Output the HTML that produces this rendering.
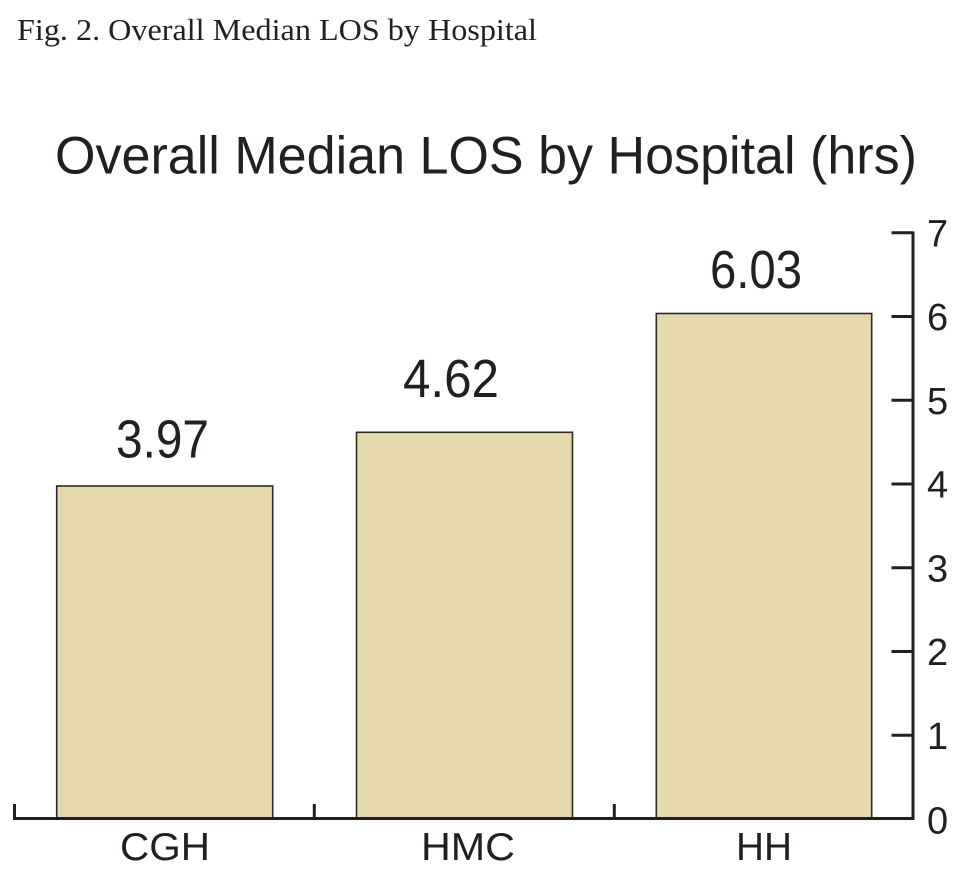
<!DOCTYPE html>
<html><head><meta charset="utf-8"><style>
html,body{margin:0;padding:0;background:#fff;}
svg{display:block;}
</style></head><body>
<svg width="973" height="889" viewBox="0 0 973 889" xmlns="http://www.w3.org/2000/svg">
<rect width="973" height="889" fill="#fff"/>
<text x="17" y="40" font-family="Liberation Serif, serif" font-size="31" fill="#231f20" textLength="520" lengthAdjust="spacingAndGlyphs">Fig. 2. Overall Median LOS by Hospital</text>
<text x="55" y="173.5" font-family="Liberation Sans, sans-serif" font-size="53" fill="#231f20" textLength="862" lengthAdjust="spacingAndGlyphs">Overall Median LOS by Hospital (hrs)</text>
<g fill="#e6d8ad" stroke="#2b2a28" stroke-width="1.6">
<rect x="56.7" y="486" width="216" height="333"/>
<rect x="356.5" y="432.3" width="216" height="386.7"/>
<rect x="656.3" y="313.5" width="215.4" height="505.5"/>
</g>
<g font-family="Liberation Sans, sans-serif" font-size="54" fill="#231f20">
<text x="116" y="457.5" textLength="93" lengthAdjust="spacingAndGlyphs">3.97</text>
<text x="403" y="397" textLength="96" lengthAdjust="spacingAndGlyphs">4.62</text>
<text x="710" y="288" textLength="92" lengthAdjust="spacingAndGlyphs">6.03</text>
</g>
<g stroke="#231f20" stroke-width="3" fill="none">
<line x1="13" y1="818.5" x2="914.5" y2="818.5"/>
<line x1="913" y1="231.5" x2="913" y2="820"/>
<line x1="14.5" y1="804" x2="14.5" y2="818.5"/>
<line x1="314.3" y1="804" x2="314.3" y2="818.5"/>
<line x1="614.3" y1="804" x2="614.3" y2="818.5"/>
<line x1="891.5" y1="232.75" x2="913" y2="232.75"/>
<line x1="891.5" y1="316.5" x2="913" y2="316.5"/>
<line x1="891.5" y1="400.25" x2="913" y2="400.25"/>
<line x1="891.5" y1="484" x2="913" y2="484"/>
<line x1="891.5" y1="567.75" x2="913" y2="567.75"/>
<line x1="891.5" y1="651.5" x2="913" y2="651.5"/>
<line x1="891.5" y1="735.25" x2="913" y2="735.25"/>
</g>
<g font-family="Liberation Sans, sans-serif" font-size="38" fill="#231f20">
<text x="927" y="246.5">7</text>
<text x="927" y="330">6</text>
<text x="927" y="414">5</text>
<text x="927" y="497.5">4</text>
<text x="927" y="581.5">3</text>
<text x="927" y="665">2</text>
<text x="927" y="749">1</text>
<text x="927" y="833.5">0</text>
</g>
<g font-family="Liberation Sans, sans-serif" font-size="39" fill="#231f20">
<text x="120" y="860" textLength="90" lengthAdjust="spacingAndGlyphs">CGH</text>
<text x="421" y="860" textLength="94" lengthAdjust="spacingAndGlyphs">HMC</text>
<text x="736" y="860" textLength="56" lengthAdjust="spacingAndGlyphs">HH</text>
</g>
</svg>
</body></html>
